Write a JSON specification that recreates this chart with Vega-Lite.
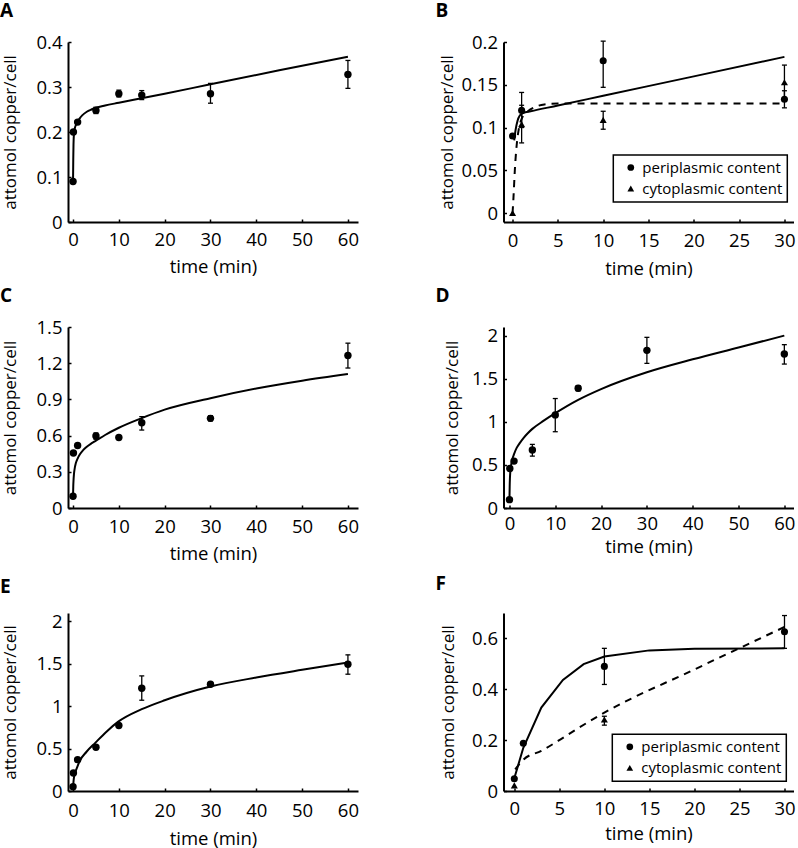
{
  "$schema": "https://vega.github.io/schema/vega-lite/v6.json",
  "background": "white",
  "padding": {"left": 0, "top": 2, "right": 0, "bottom": 0},
  "config": {
    "view": {"stroke": null},
    "axis": {"grid": false, "domainColor": "black", "domainWidth": 2, "tickColor": "black", "tickWidth": 1.5, "tickSize": -3,
      "labelFont": "Open Sans", "labelFontSize": 18.5, "labelColor": "black", "labelOverlap": false, "labelFlush": false, "labelBound": false,
      "titleFont": "Open Sans", "titleFontSize": 18.5, "titleFontWeight": "normal", "titleColor": "black"},
    "axisY": {"labelPadding": 9, "titleFontSize": 17},
    "title": {"font": "Open Sans", "fontSize": 19, "fontWeight": "bold", "anchor": "start", "frame": "group", "baseline": "alphabetic", "dx": -68, "color": "black"},
    "legend": {"labelFont": "Open Sans", "labelFontSize": 15, "labelColor": "black", "strokeColor": "black", "strokeWidth": 1.5, "padding": 5, "rowPadding": 5, "symbolOffset": 5, "labelOffset": 4, "symbolFillColor": "black", "symbolStrokeWidth": 0, "symbolSize": 45, "fillColor": "white"}
  },
  "datasets": {
    "fA": [{"t":0,"v":0.09},{"t":0.05,"v":0.14},{"t":0.1,"v":0.172},{"t":0.2,"v":0.196},{"t":0.4,"v":0.209},{"t":0.7,"v":0.217},{"t":1,"v":0.223},{"t":1.5,"v":0.231},{"t":2,"v":0.237},{"t":3,"v":0.245},{"t":4,"v":0.25},{"t":5,"v":0.254},{"t":7,"v":0.259},{"t":10,"v":0.265},{"t":20,"v":0.285},{"t":30,"v":0.306},{"t":45,"v":0.337},{"t":60,"v":0.367}],
    "pA": [{"t":0,"v":0.09},{"t":0.083,"v":0.2},{"t":1,"v":0.222},{"t":5,"v":0.248},{"t":10,"v":0.285},{"t":15,"v":0.282},{"t":30,"v":0.285},{"t":60,"v":0.328}],
    "eA": [{"t":5,"lo":0.241,"hi":0.255},{"t":10,"lo":0.278,"hi":0.293},{"t":15,"lo":0.272,"hi":0.292},{"t":30,"lo":0.264,"hi":0.308},{"t":60,"lo":0.297,"hi":0.359}],
    "fB1": [{"t":0.18,"v":0.085},{"t":0.33,"v":0.097},{"t":0.55,"v":0.108},{"t":0.8,"v":0.114},{"t":1.17,"v":0.117},{"t":2,"v":0.119},{"t":5,"v":0.1257},{"t":10,"v":0.1371},{"t":20,"v":0.1598},{"t":30,"v":0.1826}],
    "fB2": [{"t":0,"v":0},{"t":0.1,"v":0.018},{"t":0.25,"v":0.05},{"t":0.45,"v":0.079},{"t":0.7,"v":0.099},{"t":1,"v":0.11},{"t":1.5,"v":0.117},{"t":2.5,"v":0.124},{"t":3.5,"v":0.127},{"t":5,"v":0.128},{"t":15,"v":0.128},{"t":30,"v":0.128}],
    "pB": [{"t":0,"v":0.09,"s":"periplasmic content"},{"t":1,"v":0.12,"s":"periplasmic content"},{"t":10,"v":0.178,"s":"periplasmic content"},{"t":30,"v":0.133,"s":"periplasmic content"},{"t":0,"v":0,"s":"cytoplasmic content"},{"t":1,"v":0.104,"s":"cytoplasmic content"},{"t":10,"v":0.109,"s":"cytoplasmic content"},{"t":30,"v":0.153,"s":"cytoplasmic content"}],
    "eB": [{"t":1,"lo":0.1,"hi":0.141},{"t":10,"lo":0.147,"hi":0.201},{"t":30,"lo":0.123,"hi":0.143},{"t":1,"lo":0.082,"hi":0.126},{"t":10,"lo":0.098,"hi":0.119},{"t":30,"lo":0.133,"hi":0.173}],
    "fC": [{"t":0,"v":0.1},{"t":0.05,"v":0.18},{"t":0.1,"v":0.225},{"t":0.2,"v":0.28},{"t":0.35,"v":0.325},{"t":0.6,"v":0.37},{"t":1,"v":0.41},{"t":1.5,"v":0.445},{"t":2.2,"v":0.479},{"t":3,"v":0.508},{"t":4,"v":0.535},{"t":5,"v":0.558},{"t":7,"v":0.605},{"t":10,"v":0.665},{"t":15,"v":0.745},{"t":20,"v":0.815},{"t":30,"v":0.91},{"t":40,"v":0.99},{"t":50,"v":1.055},{"t":60,"v":1.11}],
    "pC": [{"t":0,"v":0.097},{"t":0.083,"v":0.456},{"t":1,"v":0.518},{"t":5,"v":0.596},{"t":10,"v":0.584},{"t":15,"v":0.707},{"t":30,"v":0.743},{"t":60,"v":1.264}],
    "eC": [{"t":5,"lo":0.57,"hi":0.622},{"t":15,"lo":0.646,"hi":0.757},{"t":30,"lo":0.722,"hi":0.765},{"t":60,"lo":1.16,"hi":1.366}],
    "fD": [{"t":0,"v":0.1},{"t":0.05,"v":0.25},{"t":0.1,"v":0.34},{"t":0.2,"v":0.43},{"t":0.4,"v":0.51},{"t":0.7,"v":0.58},{"t":1,"v":0.625},{"t":1.6,"v":0.7},{"t":2.2,"v":0.75},{"t":3.1,"v":0.815},{"t":4,"v":0.868},{"t":5,"v":0.918},{"t":7.4,"v":1.01},{"t":10,"v":1.1},{"t":15,"v":1.255},{"t":20,"v":1.38},{"t":30,"v":1.575},{"t":40,"v":1.725},{"t":50,"v":1.862},{"t":60,"v":2.0}],
    "pD": [{"t":0,"v":0.097},{"t":0.083,"v":0.458},{"t":1,"v":0.544},{"t":5,"v":0.672},{"t":10,"v":1.08},{"t":15,"v":1.39},{"t":30,"v":1.829},{"t":60,"v":1.786}],
    "eD": [{"t":5,"lo":0.602,"hi":0.738},{"t":10,"lo":0.885,"hi":1.27},{"t":15,"lo":1.36,"hi":1.42},{"t":30,"lo":1.678,"hi":1.98},{"t":60,"lo":1.67,"hi":1.895}],
    "fE": [{"t":0,"v":0.04},{"t":0.15,"v":0.138},{"t":0.44,"v":0.209},{"t":0.87,"v":0.276},{"t":1.45,"v":0.354},{"t":2.9,"v":0.46},{"t":4.9,"v":0.571},{"t":7.3,"v":0.7},{"t":9.8,"v":0.815},{"t":15,"v":0.965},{"t":20,"v":1.07},{"t":30,"v":1.232},{"t":40,"v":1.339},{"t":50,"v":1.43},{"t":60,"v":1.516}],
    "pE": [{"t":0,"v":0.051},{"t":0.083,"v":0.213},{"t":1,"v":0.37},{"t":5,"v":0.516},{"t":10,"v":0.772},{"t":15,"v":1.213},{"t":30,"v":1.26},{"t":60,"v":1.496}],
    "eE": [{"t":15,"lo":1.071,"hi":1.358},{"t":60,"lo":1.378,"hi":1.606}],
    "fF1": [{"t":0,"v":0.05},{"t":1,"v":0.17},{"t":3,"v":0.328},{"t":5.4,"v":0.437},{"t":7.7,"v":0.499},{"t":10,"v":0.529},{"t":15,"v":0.553},{"t":20,"v":0.559},{"t":30,"v":0.561}],
    "fF2": [{"t":0.1,"v":0.085},{"t":1,"v":0.123},{"t":3,"v":0.158},{"t":5,"v":0.2},{"t":7,"v":0.245},{"t":10,"v":0.308},{"t":20,"v":0.478},{"t":30,"v":0.645}],
    "pF": [{"t":0,"v":0.048,"s":"periplasmic content"},{"t":1,"v":0.188,"s":"periplasmic content"},{"t":10,"v":0.49,"s":"periplasmic content"},{"t":30,"v":0.626,"s":"periplasmic content"},{"t":0,"v":0.022,"s":"cytoplasmic content"},{"t":10,"v":0.281,"s":"cytoplasmic content"}],
    "eF": [{"t":10,"lo":0.419,"hi":0.561},{"t":30,"lo":0.561,"hi":0.69},{"t":10,"lo":0.259,"hi":0.294}]
  },
  "columns": 2,
  "spacing": {"row": 105, "column": 145.5},
  "bounds": "flush",
  "resolve": {"scale": {"x": "independent", "y": "independent", "shape": "independent"}, "legend": {"shape": "independent"}},
  "concat": [
    {
      "width": 290, "height": 180,
      "title": {"text": "A", "offset": 11.8},
      "layer": [
        {"data": {"name": "fA"}, "mark": {"type": "line", "color": "black", "strokeWidth": 2, "interpolate": "monotone"},
          "encoding": {
            "x": {"field": "t", "type": "quantitative", "title": "time (min)", "scale": {"domain": [-1.1, 62.2], "nice": false, "zero": false}, "axis": {"values": [0,10,20,30,40,50,60], "tickCount": 12, "format": "~r", "labelOverlap": false, "labelPadding": 11.5, "titleY": 35.5}},
            "y": {"field": "v", "type": "quantitative", "title": "attomol copper/cell", "scale": {"domain": [0, 0.4], "nice": false, "zero": false}, "axis": {"values": [0,0.1,0.2,0.3,0.4], "tickCount": 12, "format": "~r", "labelOverlap": false, "titleX": -49}}}},
        {"data": {"name": "eA"}, "mark": {"type": "rule", "color": "black", "strokeWidth": 1.3},
          "encoding": {"x": {"field": "t", "type": "quantitative", "title": "time (min)", "scale": {"domain": [-1.1, 62.2], "nice": false, "zero": false}},
            "y": {"field": "lo", "type": "quantitative", "title": "attomol copper/cell", "scale": {"domain": [0, 0.4], "nice": false, "zero": false}}, "y2": {"field": "hi"}}},
        {"data": {"name": "eA"}, "mark": {"type": "tick", "orient": "horizontal", "size": 5, "thickness": 1.3, "color": "black", "opacity": 1},
          "encoding": {"x": {"field": "t", "type": "quantitative", "title": "time (min)", "scale": {"domain": [-1.1, 62.2], "nice": false, "zero": false}},
            "y": {"field": "lo", "type": "quantitative", "title": "attomol copper/cell", "scale": {"domain": [0, 0.4], "nice": false, "zero": false}}}},
        {"data": {"name": "eA"}, "mark": {"type": "tick", "orient": "horizontal", "size": 5, "thickness": 1.3, "color": "black", "opacity": 1},
          "encoding": {"x": {"field": "t", "type": "quantitative", "title": "time (min)", "scale": {"domain": [-1.1, 62.2], "nice": false, "zero": false}},
            "y": {"field": "hi", "type": "quantitative", "title": "attomol copper/cell", "scale": {"domain": [0, 0.4], "nice": false, "zero": false}}}},
        {"data": {"name": "pA"}, "mark": {"type": "point", "filled": true, "shape": "circle", "size": 55, "color": "black", "opacity": 1},
          "encoding": {"x": {"field": "t", "type": "quantitative", "title": "time (min)", "scale": {"domain": [-1.1, 62.2], "nice": false, "zero": false}},
            "y": {"field": "v", "type": "quantitative", "title": "attomol copper/cell", "scale": {"domain": [0, 0.4], "nice": false, "zero": false}}}}
      ]
    },
    {
      "width": 290, "height": 180,
      "title": {"text": "B", "offset": 11.8},
      "layer": [
        {"data": {"name": "fB1"}, "mark": {"type": "line", "color": "black", "strokeWidth": 2, "interpolate": "monotone"},
          "encoding": {
            "x": {"field": "t", "type": "quantitative", "title": "time (min)", "scale": {"domain": [-1, 31], "nice": false, "zero": false}, "axis": {"values": [0,5,10,15,20,25,30], "tickCount": 12, "format": "~r", "labelOverlap": false, "labelPadding": 12.2, "titleY": 37}},
            "y": {"field": "v", "type": "quantitative", "title": "attomol copper/cell", "scale": {"domain": [-0.0105, 0.2], "nice": false, "zero": false}, "axis": {"values": [0,0.05,0.1,0.15,0.2], "tickCount": 12, "format": "~r", "labelOverlap": false, "titleX": -47}}}},
        {"data": {"name": "fB2"}, "mark": {"type": "line", "color": "black", "strokeWidth": 2, "strokeDash": [7, 6], "interpolate": "monotone"},
          "encoding": {"x": {"field": "t", "type": "quantitative", "title": "time (min)", "scale": {"domain": [-1, 31], "nice": false, "zero": false}},
            "y": {"field": "v", "type": "quantitative", "title": "attomol copper/cell", "scale": {"domain": [-0.0105, 0.2], "nice": false, "zero": false}}}},
        {"data": {"name": "eB"}, "mark": {"type": "rule", "color": "black", "strokeWidth": 1.3},
          "encoding": {"x": {"field": "t", "type": "quantitative", "title": "time (min)", "scale": {"domain": [-1, 31], "nice": false, "zero": false}},
            "y": {"field": "lo", "type": "quantitative", "title": "attomol copper/cell", "scale": {"domain": [-0.0105, 0.2], "nice": false, "zero": false}}, "y2": {"field": "hi"}}},
        {"data": {"name": "eB"}, "mark": {"type": "tick", "orient": "horizontal", "size": 5, "thickness": 1.3, "color": "black", "opacity": 1},
          "encoding": {"x": {"field": "t", "type": "quantitative", "title": "time (min)", "scale": {"domain": [-1, 31], "nice": false, "zero": false}},
            "y": {"field": "lo", "type": "quantitative", "title": "attomol copper/cell", "scale": {"domain": [-0.0105, 0.2], "nice": false, "zero": false}}}},
        {"data": {"name": "eB"}, "mark": {"type": "tick", "orient": "horizontal", "size": 5, "thickness": 1.3, "color": "black", "opacity": 1},
          "encoding": {"x": {"field": "t", "type": "quantitative", "title": "time (min)", "scale": {"domain": [-1, 31], "nice": false, "zero": false}},
            "y": {"field": "hi", "type": "quantitative", "title": "attomol copper/cell", "scale": {"domain": [-0.0105, 0.2], "nice": false, "zero": false}}}},
        {"data": {"name": "pB"}, "mark": {"type": "point", "filled": true, "size": 50, "color": "black", "opacity": 1},
          "encoding": {"x": {"field": "t", "type": "quantitative", "title": "time (min)", "scale": {"domain": [-1, 31], "nice": false, "zero": false}},
            "y": {"field": "v", "type": "quantitative", "title": "attomol copper/cell", "scale": {"domain": [-0.0105, 0.2], "nice": false, "zero": false}},
            "shape": {"field": "s", "type": "nominal", "scale": {"domain": ["periplasmic content", "cytoplasmic content"], "range": ["circle", "triangle-up"]},
              "legend": {"title": null, "orient": "none", "legendX": 109.8, "legendY": 113, "direction": "vertical"}}}}
      ]
    },
    {
      "width": 290, "height": 181,
      "title": {"text": "C", "offset": 11.8},
      "layer": [
        {"data": {"name": "fC"}, "mark": {"type": "line", "color": "black", "strokeWidth": 2, "interpolate": "monotone"},
          "encoding": {
            "x": {"field": "t", "type": "quantitative", "title": "time (min)", "scale": {"domain": [-1.1, 62.2], "nice": false, "zero": false}, "axis": {"values": [0,10,20,30,40,50,60], "tickCount": 12, "format": "~r", "labelOverlap": false, "labelPadding": 12.9, "titleY": 36.2}},
            "y": {"field": "v", "type": "quantitative", "title": "attomol copper/cell", "scale": {"domain": [0, 1.5], "nice": false, "zero": false}, "axis": {"values": [0,0.3,0.6,0.9,1.2,1.5], "tickCount": 12, "format": "~r", "labelOverlap": false, "titleX": -49}}}},
        {"data": {"name": "eC"}, "mark": {"type": "rule", "color": "black", "strokeWidth": 1.3},
          "encoding": {"x": {"field": "t", "type": "quantitative", "title": "time (min)", "scale": {"domain": [-1.1, 62.2], "nice": false, "zero": false}},
            "y": {"field": "lo", "type": "quantitative", "title": "attomol copper/cell", "scale": {"domain": [0, 1.5], "nice": false, "zero": false}}, "y2": {"field": "hi"}}},
        {"data": {"name": "eC"}, "mark": {"type": "tick", "orient": "horizontal", "size": 5, "thickness": 1.3, "color": "black", "opacity": 1},
          "encoding": {"x": {"field": "t", "type": "quantitative", "title": "time (min)", "scale": {"domain": [-1.1, 62.2], "nice": false, "zero": false}},
            "y": {"field": "lo", "type": "quantitative", "title": "attomol copper/cell", "scale": {"domain": [0, 1.5], "nice": false, "zero": false}}}},
        {"data": {"name": "eC"}, "mark": {"type": "tick", "orient": "horizontal", "size": 5, "thickness": 1.3, "color": "black", "opacity": 1},
          "encoding": {"x": {"field": "t", "type": "quantitative", "title": "time (min)", "scale": {"domain": [-1.1, 62.2], "nice": false, "zero": false}},
            "y": {"field": "hi", "type": "quantitative", "title": "attomol copper/cell", "scale": {"domain": [0, 1.5], "nice": false, "zero": false}}}},
        {"data": {"name": "pC"}, "mark": {"type": "point", "filled": true, "shape": "circle", "size": 55, "color": "black", "opacity": 1},
          "encoding": {"x": {"field": "t", "type": "quantitative", "title": "time (min)", "scale": {"domain": [-1.1, 62.2], "nice": false, "zero": false}},
            "y": {"field": "v", "type": "quantitative", "title": "attomol copper/cell", "scale": {"domain": [0, 1.5], "nice": false, "zero": false}}}}
      ]
    },
    {
      "width": 290, "height": 181,
      "title": {"text": "D", "offset": 20.3},
      "layer": [
        {"data": {"name": "fD"}, "mark": {"type": "line", "color": "black", "strokeWidth": 2, "interpolate": "monotone"},
          "encoding": {
            "x": {"field": "t", "type": "quantitative", "title": "time (min)", "scale": {"domain": [-1.3, 62], "nice": false, "zero": false}, "axis": {"values": [0,10,20,30,40,50,60], "tickCount": 12, "format": "~r", "labelOverlap": false, "labelPadding": 9.9, "titleY": 29.9}},
            "y": {"field": "v", "type": "quantitative", "title": "attomol copper/cell", "scale": {"domain": [0, 2.1], "nice": false, "zero": false}, "axis": {"values": [0,0.5,1,1.5,2], "tickCount": 12, "format": "~r", "labelOverlap": false, "titleX": -42}}}},
        {"data": {"name": "eD"}, "mark": {"type": "rule", "color": "black", "strokeWidth": 1.3},
          "encoding": {"x": {"field": "t", "type": "quantitative", "title": "time (min)", "scale": {"domain": [-1.3, 62], "nice": false, "zero": false}},
            "y": {"field": "lo", "type": "quantitative", "title": "attomol copper/cell", "scale": {"domain": [0, 2.1], "nice": false, "zero": false}}, "y2": {"field": "hi"}}},
        {"data": {"name": "eD"}, "mark": {"type": "tick", "orient": "horizontal", "size": 5, "thickness": 1.3, "color": "black", "opacity": 1},
          "encoding": {"x": {"field": "t", "type": "quantitative", "title": "time (min)", "scale": {"domain": [-1.3, 62], "nice": false, "zero": false}},
            "y": {"field": "lo", "type": "quantitative", "title": "attomol copper/cell", "scale": {"domain": [0, 2.1], "nice": false, "zero": false}}}},
        {"data": {"name": "eD"}, "mark": {"type": "tick", "orient": "horizontal", "size": 5, "thickness": 1.3, "color": "black", "opacity": 1},
          "encoding": {"x": {"field": "t", "type": "quantitative", "title": "time (min)", "scale": {"domain": [-1.3, 62], "nice": false, "zero": false}},
            "y": {"field": "hi", "type": "quantitative", "title": "attomol copper/cell", "scale": {"domain": [0, 2.1], "nice": false, "zero": false}}}},
        {"data": {"name": "pD"}, "mark": {"type": "point", "filled": true, "shape": "circle", "size": 55, "color": "black", "opacity": 1},
          "encoding": {"x": {"field": "t", "type": "quantitative", "title": "time (min)", "scale": {"domain": [-1.3, 62], "nice": false, "zero": false}},
            "y": {"field": "v", "type": "quantitative", "title": "attomol copper/cell", "scale": {"domain": [0, 2.1], "nice": false, "zero": false}}}}
      ]
    },
    {
      "width": 290, "height": 178,
      "title": {"text": "E", "offset": 15},
      "layer": [
        {"data": {"name": "fE"}, "mark": {"type": "line", "color": "black", "strokeWidth": 2, "interpolate": "monotone"},
          "encoding": {
            "x": {"field": "t", "type": "quantitative", "title": "time (min)", "scale": {"domain": [-1.1, 62.2], "nice": false, "zero": false}, "axis": {"values": [0,10,20,30,40,50,60], "tickCount": 12, "format": "~r", "labelOverlap": false, "labelPadding": 13.2, "titleY": 38.2}},
            "y": {"field": "v", "type": "quantitative", "title": "attomol copper/cell", "scale": {"domain": [0, 2.1], "nice": false, "zero": false}, "axis": {"values": [0,0.5,1,1.5,2], "tickCount": 12, "format": "~r", "labelOverlap": false, "titleX": -49}}}},
        {"data": {"name": "eE"}, "mark": {"type": "rule", "color": "black", "strokeWidth": 1.3},
          "encoding": {"x": {"field": "t", "type": "quantitative", "title": "time (min)", "scale": {"domain": [-1.1, 62.2], "nice": false, "zero": false}},
            "y": {"field": "lo", "type": "quantitative", "title": "attomol copper/cell", "scale": {"domain": [0, 2.1], "nice": false, "zero": false}}, "y2": {"field": "hi"}}},
        {"data": {"name": "eE"}, "mark": {"type": "tick", "orient": "horizontal", "size": 5, "thickness": 1.3, "color": "black", "opacity": 1},
          "encoding": {"x": {"field": "t", "type": "quantitative", "title": "time (min)", "scale": {"domain": [-1.1, 62.2], "nice": false, "zero": false}},
            "y": {"field": "lo", "type": "quantitative", "title": "attomol copper/cell", "scale": {"domain": [0, 2.1], "nice": false, "zero": false}}}},
        {"data": {"name": "eE"}, "mark": {"type": "tick", "orient": "horizontal", "size": 5, "thickness": 1.3, "color": "black", "opacity": 1},
          "encoding": {"x": {"field": "t", "type": "quantitative", "title": "time (min)", "scale": {"domain": [-1.1, 62.2], "nice": false, "zero": false}},
            "y": {"field": "hi", "type": "quantitative", "title": "attomol copper/cell", "scale": {"domain": [0, 2.1], "nice": false, "zero": false}}}},
        {"data": {"name": "pE"}, "mark": {"type": "point", "filled": true, "shape": "circle", "size": 55, "color": "black", "opacity": 1},
          "encoding": {"x": {"field": "t", "type": "quantitative", "title": "time (min)", "scale": {"domain": [-1.1, 62.2], "nice": false, "zero": false}},
            "y": {"field": "v", "type": "quantitative", "title": "attomol copper/cell", "scale": {"domain": [0, 2.1], "nice": false, "zero": false}}}}
      ]
    },
    {
      "width": 290, "height": 178,
      "title": {"text": "F", "offset": 19},
      "layer": [
        {"data": {"name": "fF1"}, "mark": {"type": "line", "color": "black", "strokeWidth": 2, "interpolate": "linear"},
          "encoding": {
            "x": {"field": "t", "type": "quantitative", "title": "time (min)", "scale": {"domain": [-1.2, 31], "nice": false, "zero": false}, "axis": {"values": [0,5,10,15,20,25,30], "tickCount": 12, "format": "~r", "labelOverlap": false, "labelPadding": 11.3, "titleY": 33}},
            "y": {"field": "v", "type": "quantitative", "title": "attomol copper/cell", "scale": {"domain": [0, 0.7], "nice": false, "zero": false}, "axis": {"values": [0,0.2,0.4,0.6], "tickCount": 12, "format": "~r", "labelOverlap": false, "titleX": -45.7}}}},
        {"data": {"name": "fF2"}, "mark": {"type": "line", "color": "black", "strokeWidth": 2, "strokeDash": [7, 6], "interpolate": "monotone"},
          "encoding": {"x": {"field": "t", "type": "quantitative", "title": "time (min)", "scale": {"domain": [-1.2, 31], "nice": false, "zero": false}},
            "y": {"field": "v", "type": "quantitative", "title": "attomol copper/cell", "scale": {"domain": [0, 0.7], "nice": false, "zero": false}}}},
        {"data": {"name": "eF"}, "mark": {"type": "rule", "color": "black", "strokeWidth": 1.3},
          "encoding": {"x": {"field": "t", "type": "quantitative", "title": "time (min)", "scale": {"domain": [-1.2, 31], "nice": false, "zero": false}},
            "y": {"field": "lo", "type": "quantitative", "title": "attomol copper/cell", "scale": {"domain": [0, 0.7], "nice": false, "zero": false}}, "y2": {"field": "hi"}}},
        {"data": {"name": "eF"}, "mark": {"type": "tick", "orient": "horizontal", "size": 5, "thickness": 1.3, "color": "black", "opacity": 1},
          "encoding": {"x": {"field": "t", "type": "quantitative", "title": "time (min)", "scale": {"domain": [-1.2, 31], "nice": false, "zero": false}},
            "y": {"field": "lo", "type": "quantitative", "title": "attomol copper/cell", "scale": {"domain": [0, 0.7], "nice": false, "zero": false}}}},
        {"data": {"name": "eF"}, "mark": {"type": "tick", "orient": "horizontal", "size": 5, "thickness": 1.3, "color": "black", "opacity": 1},
          "encoding": {"x": {"field": "t", "type": "quantitative", "title": "time (min)", "scale": {"domain": [-1.2, 31], "nice": false, "zero": false}},
            "y": {"field": "hi", "type": "quantitative", "title": "attomol copper/cell", "scale": {"domain": [0, 0.7], "nice": false, "zero": false}}}},
        {"data": {"name": "pF"}, "mark": {"type": "point", "filled": true, "size": 50, "color": "black", "opacity": 1},
          "encoding": {"x": {"field": "t", "type": "quantitative", "title": "time (min)", "scale": {"domain": [-1.2, 31], "nice": false, "zero": false}},
            "y": {"field": "v", "type": "quantitative", "title": "attomol copper/cell", "scale": {"domain": [0, 0.7], "nice": false, "zero": false}},
            "shape": {"field": "s", "type": "nominal", "scale": {"domain": ["periplasmic content", "cytoplasmic content"], "range": ["circle", "triangle-up"]},
              "legend": {"title": null, "orient": "none", "legendX": 108.8, "legendY": 121.3, "direction": "vertical"}}}}
      ]
    }
  ]
}
